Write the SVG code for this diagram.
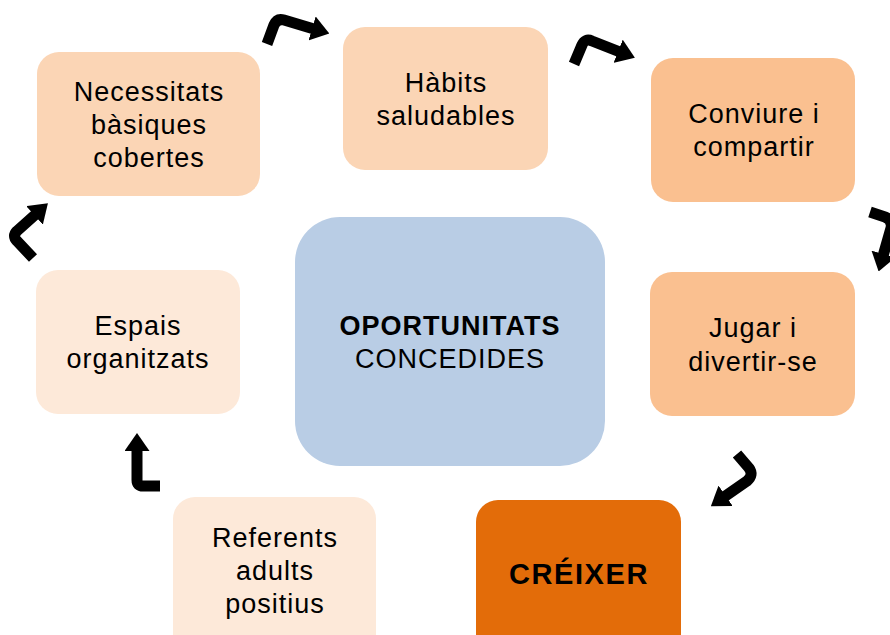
<svg xmlns="http://www.w3.org/2000/svg" width="890" height="635" viewBox="0 0 890 635">
<style>
.t{font-family:"Liberation Sans",Arial,sans-serif;font-size:27px;fill:#000;text-anchor:middle;letter-spacing:1px}
.b{font-weight:bold}
.c1{fill:#FBD5B5}
.c2{fill:#FAC090}
.c3{fill:#FDE9D9}
.arr{fill:none;stroke:#000;stroke-width:11;stroke-linejoin:round}
</style>
<defs>
<marker id="ah" viewBox="0 0 18 25" markerUnits="userSpaceOnUse" markerWidth="18" markerHeight="25" refX="2" refY="12.5" orient="auto">
<path d="M0,0 L18,12.5 L0,25 z" fill="#000"/>
</marker>
</defs>
<rect width="890" height="635" fill="#fff"/>
<g id="n-necessitats">
<rect class="c1" x="37" y="52" width="223" height="144" rx="22"/>
<text class="t" x="149" y="101">Necessitats</text>
<text class="t" x="149" y="134">bàsiques</text>
<text class="t" x="149" y="167">cobertes</text>
</g>
<g id="n-habits">
<rect class="c1" x="343" y="27" width="205" height="143" rx="22"/>
<text class="t" x="446" y="92">Hàbits</text>
<text class="t" x="446" y="125">saludables</text>
</g>
<g id="n-conviure">
<rect class="c2" x="651" y="58" width="204" height="144" rx="22"/>
<text class="t" x="754" y="123">Conviure i</text>
<text class="t" x="754" y="156">compartir</text>
</g>
<g id="n-jugar">
<rect class="c2" x="650" y="272" width="205" height="144" rx="22"/>
<text class="t" x="753" y="337">Jugar i</text>
<text class="t" x="753" y="371">divertir-se</text>
</g>
<g id="n-creixer">
<rect x="476" y="500" width="205" height="160" rx="22" fill="#E36C09"/>
<text class="t b" x="579" y="584" style="font-size:29px;letter-spacing:1.6px">CRÉIXER</text>
</g>
<g id="n-referents">
<rect class="c3" x="173" y="497" width="203" height="160" rx="22"/>
<text class="t" x="275" y="547">Referents</text>
<text class="t" x="275" y="580">adults</text>
<text class="t" x="275" y="613">positius</text>
</g>
<g id="n-espais">
<rect class="c3" x="36" y="270" width="204" height="144" rx="22"/>
<text class="t" x="138" y="335">Espais</text>
<text class="t" x="138" y="368">organitzats</text>
</g>
<g id="n-center">
<rect x="295" y="217" width="310" height="249" rx="45" fill="#B9CDE5"/>
<text class="t b" x="450" y="335">OPORTUNITATS</text>
<text class="t" x="450" y="368">CONCEDIDES</text>
</g>
<g id="connectors">
<path class="arr" marker-end="url(#ah)" d="M267,44 L274,25 Q277,18 284,20 L314,29"/>
<path class="arr" marker-end="url(#ah)" d="M574,64 L582,45 Q585,38 592,41 L620,52"/>
<path class="arr" marker-end="url(#ah)" d="M870,212 L885,217 Q893,220 891,228 L883,256"/>
<path class="arr" marker-end="url(#ah)" d="M737,454 L749,468 Q754,475 747,481 L724,497"/>
<path class="arr" marker-end="url(#ah)" d="M160,486 L143,486 Q137,486 137,480 L137,449"/>
<path class="arr" marker-end="url(#ah)" d="M33,258 L17,241 Q12,236 17,231 L36,214"/>
</g>
</svg>
